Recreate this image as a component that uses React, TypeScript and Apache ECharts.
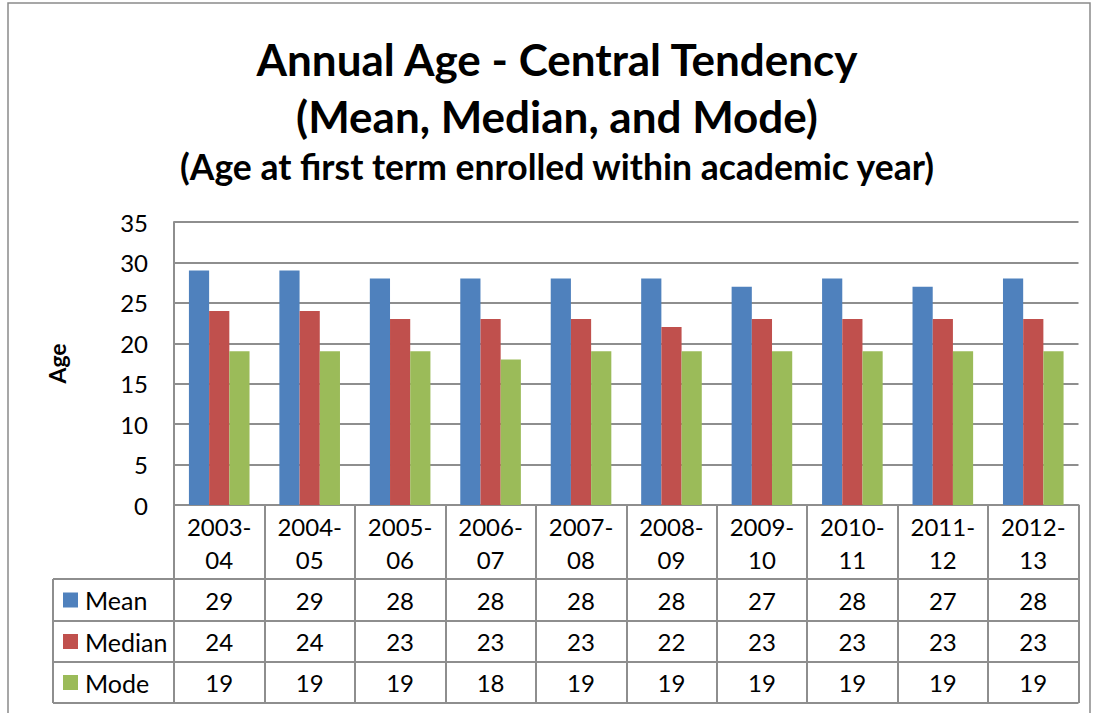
import React, { useEffect, useRef } from 'react';
import * as echarts from 'echarts';

const categories = ['2003-04', '2004-05', '2005-06', '2006-07', '2007-08', '2008-09', '2009-10', '2010-11', '2011-12', '2012-13'];
const meanValues = [29, 29, 28, 28, 28, 28, 27, 28, 27, 28];
const medianValues = [24, 24, 23, 23, 23, 22, 23, 23, 23, 23];
const modeValues = [19, 19, 19, 18, 19, 19, 19, 19, 19, 19];
const seriesNames = ['Mean', 'Median', 'Mode'];
const seriesColors = ['#4F81BD', '#C0504D', '#9BBB59'];
const titleLines = ['Annual Age - Central Tendency', '(Mean, Median, and Mode)'];
const subtitleText = '(Age at first term enrolled within academic year)';
const yAxisName = 'Age';
const yMin = 0;
const yMax = 35;
const yInterval = 5;

const W = 1098;
const H = 713;
const FONT = 'Lato, "Open Sans", "Liberation Sans", sans-serif';
const gridLeft = 174;
const gridRight = 1078.5;
const gridTop = 222;
const gridBottom = 505;
const rowLines = [579, 621, 662, 703];
const tableLeft = 53;
const lineColor = '#8e8e8e';

export default function App() {
  const ref = useRef<HTMLDivElement>(null);
  useEffect(() => {
    if (!ref.current) return;
    const chart = echarts.init(ref.current, null, { renderer: 'svg' });
    const allSeries = [meanValues, medianValues, modeValues];
    const colW = (gridRight - gridLeft) / categories.length;
    const graphic: any[] = [];
    // outer border
    graphic.push({ type: 'rect', shape: { x: 8, y: 3, width: 1082, height: 740 }, style: { fill: 'none', stroke: '#8a8a8a', lineWidth: 1.5 }, silent: true });
    // titles
    titleLines.forEach((t, i) => {
      graphic.push({ type: 'text', x: 557, y: 59 + i * 57, style: { text: t, fontSize: 44, fontWeight: 'bold', fontFamily: FONT, fill: '#000', textAlign: 'center', textVerticalAlign: 'middle' } });
    });
    graphic.push({ type: 'text', x: 557, y: 166, style: { text: subtitleText, fontSize: 35.5, fontWeight: 'bold', fontFamily: FONT, fill: '#000', textAlign: 'center', textVerticalAlign: 'middle' } });
    // table horizontal lines
    rowLines.forEach((y) => {
      graphic.push({ type: 'line', shape: { x1: tableLeft, y1: y, x2: gridRight, y2: y }, style: { stroke: lineColor, lineWidth: 2 }, silent: true });
    });
    graphic.push({ type: 'line', shape: { x1: tableLeft, y1: rowLines[0], x2: tableLeft, y2: rowLines[rowLines.length - 1] }, style: { stroke: lineColor, lineWidth: 2 }, silent: true });
    // rows
    allSeries.forEach((vals, r) => {
      const cy = (rowLines[r] + rowLines[r + 1]) / 2;
      graphic.push({ type: 'rect', shape: { x: 63, y: cy - 7.5, width: 15, height: 15 }, style: { fill: seriesColors[r] } });
      graphic.push({ type: 'text', x: 85, y: cy, style: { text: seriesNames[r], fontSize: 25, fontFamily: FONT, fill: '#000', textAlign: 'left', textVerticalAlign: 'middle' } });
      vals.forEach((v, i) => {
        graphic.push({ type: 'text', x: gridLeft + colW * (i + 0.5), y: cy, style: { text: String(v), fontSize: 24, fontFamily: FONT, fill: '#000', textAlign: 'center', textVerticalAlign: 'middle' } });
      });
    });

    chart.setOption({
      animation: false,
      backgroundColor: '#fff',
      grid: { left: gridLeft, right: W - gridRight, top: gridTop, bottom: H - gridBottom, containLabel: false },
      xAxis: {
        type: 'category',
        data: categories,
        axisLine: { show: true, lineStyle: { color: lineColor, width: 2 } },
        axisTick: { show: true, length: rowLines[rowLines.length - 1] - gridBottom, lineStyle: { color: lineColor, width: 2 } },
        axisLabel: {
          formatter: (v: string) => v.replace('-', '-\n'),
          fontSize: 24,
          lineHeight: 33,
          margin: 5,
          color: '#000',
          fontFamily: FONT,
          interval: 0,
        },
      },
      yAxis: {
        type: 'value',
        min: yMin,
        max: yMax,
        interval: yInterval,
        name: yAxisName,
        nameLocation: 'middle',
        nameRotate: 90,
        nameGap: 106,
        nameTextStyle: { fontSize: 23, fontWeight: 'bold', fontFamily: FONT, color: '#000' },
        axisLine: { show: true, lineStyle: { color: lineColor, width: 2 } },
        axisTick: { show: false },
        axisLabel: { fontSize: 24, color: '#000', fontFamily: FONT, margin: 26 },
        splitLine: { show: true, lineStyle: { color: lineColor, width: 2 } },
      },
      series: allSeries.map((vals, i) => ({
        type: 'bar',
        name: seriesNames[i],
        data: vals,
        itemStyle: { color: seriesColors[i] },
        barGap: '0%',
        barCategoryGap: '33%',
      })),
      graphic,
    });
    return () => chart.dispose();
  }, []);
  return <div ref={ref} style={{ position: 'absolute', left: 0, top: 0, width: W, height: H }} />;
}
